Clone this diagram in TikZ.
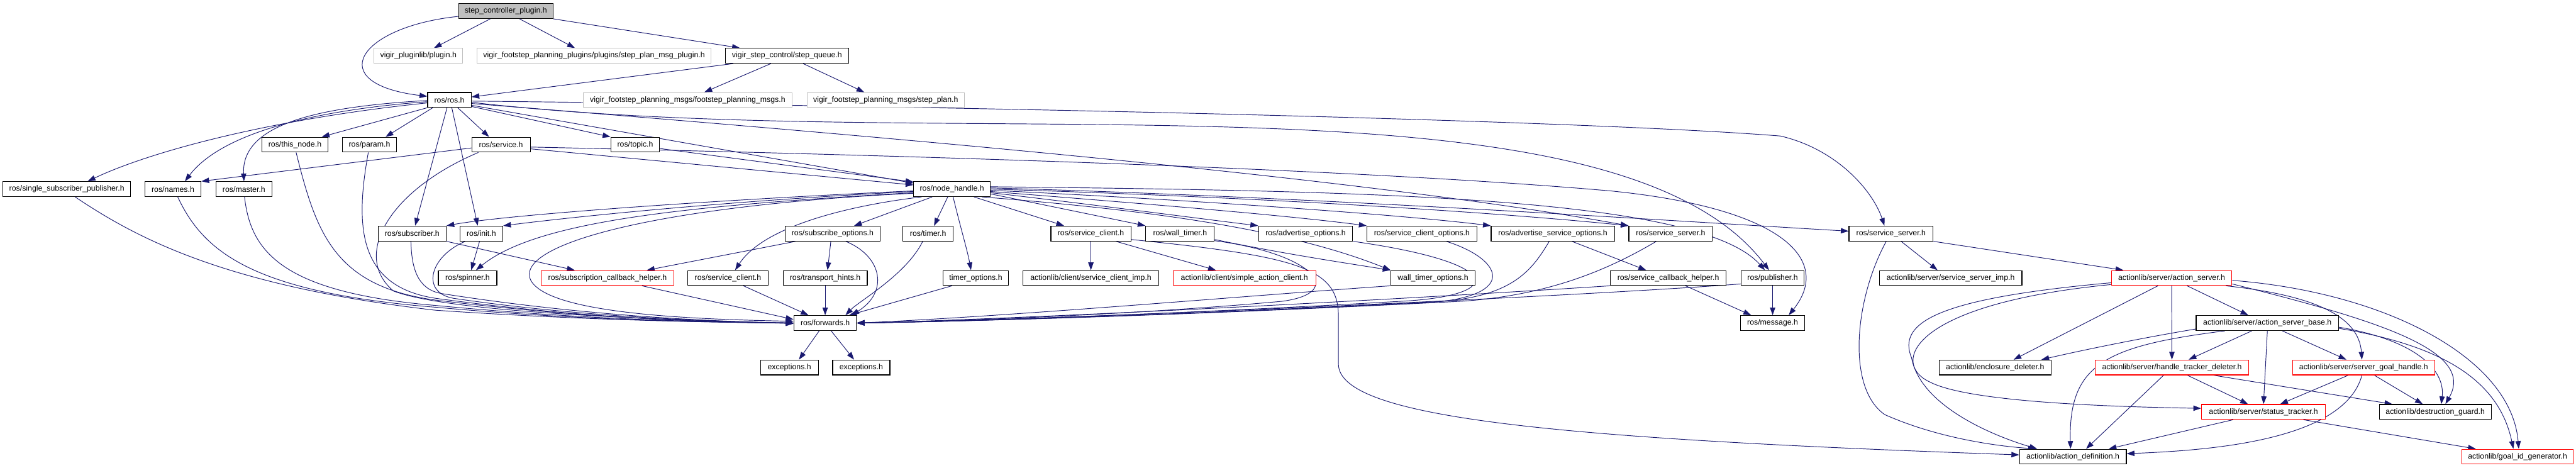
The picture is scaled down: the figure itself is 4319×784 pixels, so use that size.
\documentclass[tikz,border=0pt]{standalone}
\usepackage{fontspec}
\setmainfont{Liberation Sans}
\usetikzlibrary{arrows.meta}
\pgfdeclarelayer{bg}
\pgfsetlayers{bg,main}
\definecolor{edgec}{RGB}{25,25,112}
\definecolor{greyb}{RGB}{191,191,191}
\begin{document}
\begin{tikzpicture}[x=1pt,y=-1pt,
 bx/.style={draw=black, line width=1.2pt, fill=white, inner sep=0pt, minimum height=25pt, font=\fontsize{13}{15}\selectfont},
 rbx/.style={bx, draw=red},
 gbx/.style={bx, draw=greyb, line width=1pt},
 ed/.style={draw=edgec, line width=1pt, -{Triangle[length=13pt,width=9pt]}}]
\useasboundingbox (0,0) rectangle (4319,784);
% row 1
\node[bx, fill=greyb, minimum width=158pt] (scp) at (848,18.5) {step\_controller\_plugin.h};
% row 2
\node[gbx, minimum width=149pt] (plug) at (701.5,93.5) {vigir\_pluginlib/plugin.h};
\node[gbx, minimum width=392pt] (spmp) at (996,93.5) {vigir\_footstep\_planning\_plugins/plugins/step\_plan\_msg\_plugin.h};
\node[bx, minimum width=207pt] (sq) at (1319.5,93.5) {vigir\_step\_control/step\_queue.h};
% row 3
\node[bx, minimum width=73pt] (ros) at (753.5,167.5) {ros/ros.h};
\node[gbx, minimum width=350pt] (fpm) at (1153,167.5) {vigir\_footstep\_planning\_msgs/footstep\_planning\_msgs.h};
\node[gbx, minimum width=264pt] (spl) at (1485,167.5) {vigir\_footstep\_planning\_msgs/step\_plan.h};
% row 4
\node[bx, minimum width=111pt] (thn) at (494.5,242.5) {ros/this\_node.h};
\node[bx, minimum width=91pt] (par) at (619.5,242.5) {ros/param.h};
\node[bx, minimum width=98pt] (srv) at (840,242.5) {ros/service.h};
\node[bx, minimum width=82pt] (top) at (1065,242.5) {ros/topic.h};
% row 5
\node[bx, minimum width=214pt] (ssp) at (112,317) {ros/single\_subscriber\_publisher.h};
\node[bx, minimum width=94pt] (nam) at (290,317) {ros/names.h};
\node[bx, minimum width=94pt] (mas) at (409,317) {ros/master.h};
\node[bx, minimum width=128pt] (nh) at (1596,317) {ros/node\_handle.h};
% row 6
\node[bx, minimum width=114pt] (sub) at (691,391.5) {ros/subscriber.h};
\node[bx, minimum width=72pt] (ini) at (807,391.5) {ros/init.h};
\node[bx, minimum width=160pt] (so) at (1396,391.5) {ros/subscribe\_options.h};
\node[bx, minimum width=84pt] (tim) at (1556,391.5) {ros/timer.h};
\node[bx, minimum width=134pt] (sc) at (1829,391.5) {ros/service\_client.h};
\node[bx, minimum width=115pt] (wt) at (1978.5,391.5) {ros/wall\_timer.h};
\node[bx, minimum width=158pt] (ao) at (2189,391.5) {ros/advertise\_options.h};
\node[bx, minimum width=184pt] (sco) at (2384,391.5) {ros/service\_client\_options.h};
\node[bx, minimum width=207pt] (aso) at (2603.5,391.5) {ros/advertise\_service\_options.h};
\node[bx, minimum width=140pt] (ss1) at (2801,391.5) {ros/service\_server.h};
\node[bx, minimum width=141pt] (ss2) at (3170.5,391.5) {ros/service\_server.h};
% row 7
\node[bx, minimum width=98pt] (spn) at (784,466) {ros/spinner.h};
\node[rbx, minimum width=223pt] (sch) at (1018.5,466) {ros/subscription\_callback\_helper.h};
\node[bx, minimum width=135pt] (sc2) at (1220.5,466) {ros/service\_client.h};
\node[bx, minimum width=141pt] (th) at (1383.5,466) {ros/transport\_hints.h};
\node[bx, minimum width=110pt] (to) at (1636,466) {timer\_options.h};
\node[bx, minimum width=228pt] (sci) at (1829,466) {actionlib/client/service\_client\_imp.h};
\node[rbx, minimum width=239pt] (sac) at (2086.5,466) {actionlib/client/simple\_action\_client.h};
\node[bx, minimum width=141pt] (wto) at (2402.5,466) {wall\_timer\_options.h};
\node[bx, minimum width=194pt] (scbh) at (2797,466) {ros/service\_callback\_helper.h};
\node[bx, minimum width=106pt] (pub) at (2972,466) {ros/publisher.h};
\node[bx, minimum width=239pt] (ssi) at (3270.5,466) {actionlib/server/service\_server\_imp.h};
\node[rbx, minimum width=202pt] (as) at (3641,466) {actionlib/server/action\_server.h};
% row 8
\node[bx, minimum width=105pt] (fwd) at (1383.5,541.5) {ros/forwards.h};
\node[bx, minimum width=108pt] (msg) at (2972,541.5) {ros/message.h};
\node[bx, minimum width=239pt] (asb) at (3801.5,541.5) {actionlib/server/action\_server\_base.h};
% row 9
\node[bx, minimum width=97pt] (ex1) at (1323.5,616) {exceptions.h};
\node[bx, minimum width=96pt] (ex2) at (1444,616) {exceptions.h};
\node[bx, minimum width=188pt] (ed) at (3345,616) {actionlib/enclosure\_deleter.h};
\node[rbx, minimum width=257pt] (htd) at (3641.5,616) {actionlib/server/handle\_tracker\_deleter.h};
\node[rbx, minimum width=238pt] (sgh) at (3963,616) {actionlib/server/server\_goal\_handle.h};
% row 10
\node[rbx, minimum width=208pt] (st) at (3795,690.5) {actionlib/server/status\_tracker.h};
\node[bx, minimum width=188pt] (dg) at (4083,690.5) {actionlib/destruction\_guard.h};
% row 11
\node[bx, minimum width=179pt] (ad) at (3475.5,765.5) {actionlib/action\_definition.h};
\node[rbx, minimum width=186pt] (gid) at (4221,765.5) {actionlib/goal\_id\_generator.h};

\begin{pgfonlayer}{bg}
% top
\draw[ed] ([yshift=-9pt]scp.west) .. controls (600,45) and (540,140) .. ([yshift=6pt]ros.west);
\draw[ed] ([xshift=-26pt]scp.south) -- ([xshift=26pt]plug.north);
\draw[ed] ([xshift=23pt]scp.south) -- ([xshift=-32pt]spmp.north);
\draw[ed] (scp.south east) -- ([xshift=-79pt]sq.north);
\draw[ed] ([xshift=-90pt]sq.south) -- ([yshift=5pt]ros.east);
\draw[ed] ([xshift=-27pt]sq.south) -- ([xshift=28pt]fpm.north);
\draw[ed] ([xshift=27pt]sq.south) -- ([xshift=-36pt]spl.north);
% ros.h
\draw[ed] (ros.south west) -- ([xshift=45pt]thn.north);
\draw[ed] ([xshift=-28pt]ros.south) -- ([xshift=27pt]par.north);
\draw[ed] ([yshift=-5pt]ros.west) .. controls (450,200) and (250,255) .. ([xshift=35pt]ssp.north);
\draw[ed] ([yshift=-3pt]ros.west) .. controls (520,185) and (370,225) .. ([xshift=20pt]nam.north);
\draw[ed] ([yshift=-1pt]ros.west) .. controls (510,180) and (405,215) .. (mas.north);
\draw[ed] ([xshift=-4pt]ros.south) -- ([xshift=5pt]sub.north);
\draw[ed] ([xshift=4pt]ros.south) -- ([xshift=-6pt]ini.north);
\draw[ed] ([xshift=14pt]ros.south) -- ([xshift=-20pt]srv.north);
\draw[ed] ([yshift=-11pt]ros.east) -- (top.north west);
\draw[ed] ([yshift=-9pt]ros.east) -- ([yshift=10pt]nh.west);
\draw[ed] ([yshift=-4pt]ros.east) .. controls (1600,265) and (2700,100) .. ([xshift=-6pt]pub.north);
\draw[ed] ([yshift=-2pt]ros.east) .. controls (1800,180) and (2700,205) .. (2985,228) .. controls (3080,250) and (3140,320) .. ([xshift=-11pt]ss2.north);
\draw[ed] ([yshift=-6pt]ros.east) .. controls (1500,230) and (2300,300) .. (ss1.north west);
% service.h, topic.h
\draw[ed] ([yshift=-5.5pt]srv.west) -- (nam.north east);
\draw[ed] ([xshift=-38pt]srv.south) .. controls (650,320) and (590,430) .. (660,488) .. controls (760,525) and (1100,535) .. ([yshift=-1pt]fwd.west);
\draw[ed] ([yshift=-7pt]srv.east) -- ([yshift=7pt]nh.west);
\draw[ed] ([yshift=-4pt]srv.east) .. controls (1600,262) and (2300,285) .. (2700,320) .. controls (3000,350) and (3070,440) .. ([xshift=27pt]msg.north);
\draw[ed] ([yshift=-6.5pt]top.east) -- ([yshift=12pt]nh.west);
% left side into forwards
\draw[ed] ([xshift=2pt]thn.south) .. controls (530,390) and (560,480) .. (730,503) .. controls (950,530) and (1150,540) .. (fwd.west);
\draw[ed] ([xshift=-2pt]par.south) .. controls (595,380) and (600,480) .. (730,500) .. controls (950,530) and (1150,540) .. (fwd.west);
\draw[ed] ([xshift=14pt]ssp.south) .. controls (230,400) and (380,480) .. (730,520) .. controls (950,535) and (1150,540) .. (fwd.west);
\draw[ed] ([xshift=8pt]nam.south) .. controls (340,420) and (420,490) .. (730,515) .. controls (950,535) and (1150,540) .. (fwd.west);
\draw[ed] ([xshift=1pt]mas.south) .. controls (420,420) and (470,490) .. (730,512) .. controls (950,533) and (1150,540) .. (fwd.west);
\draw[ed] ([xshift=-2pt]sub.south) .. controls (690,450) and (700,485) .. (740,492) .. controls (950,525) and (1150,538) .. (fwd.west);
\draw[ed] ([xshift=-27pt]ini.south) .. controls (720,430) and (705,490) .. (760,500) .. controls (950,528) and (1150,538) .. (fwd.west);
\draw[ed] (sub.south east) -- ([xshift=-55pt]sch.north);
\draw[ed] ([xshift=-3pt]ini.south) -- ([xshift=6pt]spn.north);
% node_handle.h
\draw[ed] ([yshift=-3pt]nh.west) .. controls (1200,335) and (850,360) .. (sub.north east);
\draw[ed] ([yshift=-4pt]nh.west) .. controls (1200,338) and (950,365) .. (ini.north east);
\draw[ed] ([yshift=-6pt]nh.west) .. controls (1150,345) and (900,370) .. ([xshift=14pt]spn.north);
\draw[ed] ([yshift=-7pt]nh.west) .. controls (1100,345) and (860,410) .. (890,470) .. controls (920,525) and (1150,535) .. ([yshift=3pt]fwd.west);
\draw[ed] ([xshift=-51pt]nh.south) .. controls (1420,345) and (1280,380) .. ([xshift=12pt]sc2.north);
\draw[ed] ([xshift=-33pt]nh.south) -- ([xshift=36pt]so.north);
\draw[ed] ([xshift=-7pt]nh.south) -- ([xshift=10pt]tim.north);
\draw[ed] ([xshift=2pt]nh.south) .. controls (1610,380) and (1622,420) .. ([xshift=-8pt]to.north);
\draw[ed] ([xshift=37pt]nh.south) -- ([xshift=-45pt]sc.north);
\draw[ed] ([yshift=-8pt]nh.east) -- (wt.north west);
\draw[ed] ([yshift=-6pt]nh.east) .. controls (1850,345) and (2000,365) .. (ao.north west);
\draw[ed] ([yshift=-4pt]nh.east) .. controls (1900,340) and (2150,360) .. (sco.north west);
\draw[ed] ([yshift=-2pt]nh.east) .. controls (2000,335) and (2350,360) .. (aso.north west);
\draw[ed] (nh.east) .. controls (2100,330) and (2500,355) .. (ss1.north west);
\draw[ed] ([yshift=2pt]nh.east) .. controls (2200,330) and (2800,370) .. ([yshift=4pt]ss2.west);
\draw[ed] ([yshift=4pt]nh.east) .. controls (2300,320) and (2850,330) .. ([xshift=-13pt]pub.north);
\draw[ed] ([xshift=50pt]nh.south) .. controls (1900,350) and (2150,380) .. (wto.north west);
% service_client etc.
\draw[ed] ([yshift=-10pt]sc.east) .. controls (2180,430) and (2244,450) .. (2244,530) -- (2244,610) .. controls (2244,700) and (2600,735) .. ([yshift=3pt]ad.west);
\draw[ed] (sc.south) -- (sci.north);
\draw[ed] ([xshift=42pt]sc.south) -- ([xshift=-48pt]sac.north);
\draw[ed] ([yshift=-10pt]wt.east) .. controls (2150,425) and (2250,440) .. (wto.north west);
\draw[ed] ([yshift=-12pt]wt.east) .. controls (2200,425) and (2260,490) .. (2150,505) .. controls (1900,528) and (1600,538) .. (fwd.east);
\draw[ed] ([xshift=-40pt]to.south) -- ([xshift=40pt]fwd.north);
\draw[ed] ([xshift=-9pt]tim.south) .. controls (1520,460) and (1440,505) .. ([xshift=34pt]fwd.north);
\draw[ed] ([xshift=22pt]so.south) .. controls (1480,430) and (1490,490) .. ([xshift=44pt]fwd.north);
\draw[ed] ([xshift=-3pt]so.south) -- ([xshift=4pt]th.north);
\draw[ed] ([xshift=-62pt]so.south) -- ([xshift=66pt]sch.north);
\draw[ed] (th.south) -- (fwd.north);
\draw[ed] ([xshift=58pt]sch.south) -- ([yshift=6pt]fwd.west);
\draw[ed] ([xshift=26pt]sc2.south) -- ([xshift=-28pt]fwd.north);
\draw[ed] ([xshift=-10pt]fwd.south) -- ([xshift=16pt]ex1.north);
\draw[ed] ([xshift=10pt]fwd.south) -- ([xshift=-12pt]ex2.north);
% right side into forwards
\draw[ed] (wto.south west) .. controls (2100,495) and (1700,530) .. (fwd.east);
\draw[ed] (ao.south east) .. controls (2520,440) and (2530,495) .. (2350,505) .. controls (2000,525) and (1650,538) .. (fwd.east);
\draw[ed] ([xshift=41pt]sco.south) .. controls (2520,435) and (2545,495) .. (2400,507) .. controls (2000,527) and (1650,538) .. (fwd.east);
\draw[ed] ([xshift=-6pt]aso.south) .. controls (2570,450) and (2540,495) .. (2420,505) .. controls (2000,527) and (1650,538) .. (fwd.east);
\draw[ed] ([xshift=-24pt]ss1.south) .. controls (2700,450) and (2600,495) .. (2450,505) .. controls (2000,528) and (1650,538) .. (fwd.east);
\draw[ed] (scbh.south west) .. controls (2300,505) and (1700,535) .. (fwd.east);
\draw[ed] ([yshift=-10pt]pub.west) .. controls (2600,500) and (1700,538) .. (fwd.east);
\draw[ed] ([xshift=32pt]aso.south) -- ([xshift=-37pt]scbh.north);
\draw[ed] ([xshift=29pt]scbh.south) -- ([xshift=-36pt]msg.north);
\draw[ed] (pub.south) -- (msg.north);
% service_server 2
\draw[ed] ([xshift=17pt]ss2.south) -- ([xshift=-22pt]ssi.north);
\draw[ed] (ss2.south east) -- ([xshift=-81pt]as.north);
\draw[ed] ([xshift=-8pt]ss2.south) .. controls (3110,500) and (3095,650) .. (3160,695) .. controls (3250,735) and (3350,748) .. ([xshift=-62pt]ad.north);
% action_server
\draw[ed] ([yshift=-8pt]as.west) .. controls (3250,500) and (3180,540) .. (3205,600) .. controls (3220,680) and (3340,730) .. ([xshift=-60pt]ad.north);
\draw[ed] ([yshift=-11pt]as.west) .. controls (3200,510) and (3170,610) .. (3235,640) .. controls (3300,675) and (3550,682) .. ([yshift=6pt]st.west);
\draw[ed] ([xshift=-23pt]as.south) -- ([xshift=31pt]ed.north);
\draw[ed] (as.south) -- (htd.north);
\draw[ed] ([xshift=26pt]as.south) -- ([xshift=-32pt]asb.north);
\draw[ed] ([xshift=91pt]as.south) .. controls (3880,495) and (3955,530) .. ([xshift=-3pt]sgh.north);
\draw[ed] ([yshift=-10pt]as.east) .. controls (4000,540) and (4150,590) .. ([xshift=17pt]dg.north);
\draw[ed] ([yshift=-4pt]as.east) .. controls (4000,490) and (4210,600) .. ([xshift=2pt]gid.north);
% action_server_base
\draw[ed] ([yshift=-10pt]asb.west) .. controls (3600,565) and (3500,585) .. ([xshift=-17pt]ed.north east);
\draw[ed] ([xshift=-71pt]asb.south) .. controls (3530,580) and (3468,610) .. ([xshift=-4pt]ad.north);
\draw[ed] ([xshift=-26pt]asb.south) -- ([xshift=28pt]htd.north);
\draw[ed] (asb.south) -- (st.north);
\draw[ed] ([xshift=25pt]asb.south) -- ([xshift=-29pt]sgh.north);
\draw[ed] ([yshift=-7pt]asb.east) .. controls (4050,570) and (4100,620) .. ([xshift=10pt]dg.north);
\draw[ed] ([yshift=-9pt]asb.east) .. controls (4100,580) and (4190,640) .. ([xshift=-7pt]gid.north);
% handle_tracker_deleter
\draw[ed] ([xshift=-14pt]htd.south) -- ([xshift=22pt]ad.north);
\draw[ed] ([xshift=26pt]htd.south) -- ([xshift=-26pt]st.north);
\draw[ed] ([xshift=70pt]htd.south) -- ([xshift=-72pt]dg.north);
% server_goal_handle
\draw[ed] ([xshift=-26pt]sgh.south) -- ([xshift=28pt]st.north);
\draw[ed] ([xshift=18pt]sgh.south) -- ([xshift=-21pt]dg.north);
\draw[ed] ([xshift=-3pt]sgh.south) .. controls (3930,740) and (3700,755) .. ([yshift=5pt]ad.east);
% status_tracker
\draw[ed] ([xshift=-51pt]st.south) -- ([xshift=60pt]ad.north);
\draw[ed] ([xshift=67pt]st.south) -- ([xshift=-70pt]gid.north);
\end{pgfonlayer}
\end{tikzpicture}
\end{document}
